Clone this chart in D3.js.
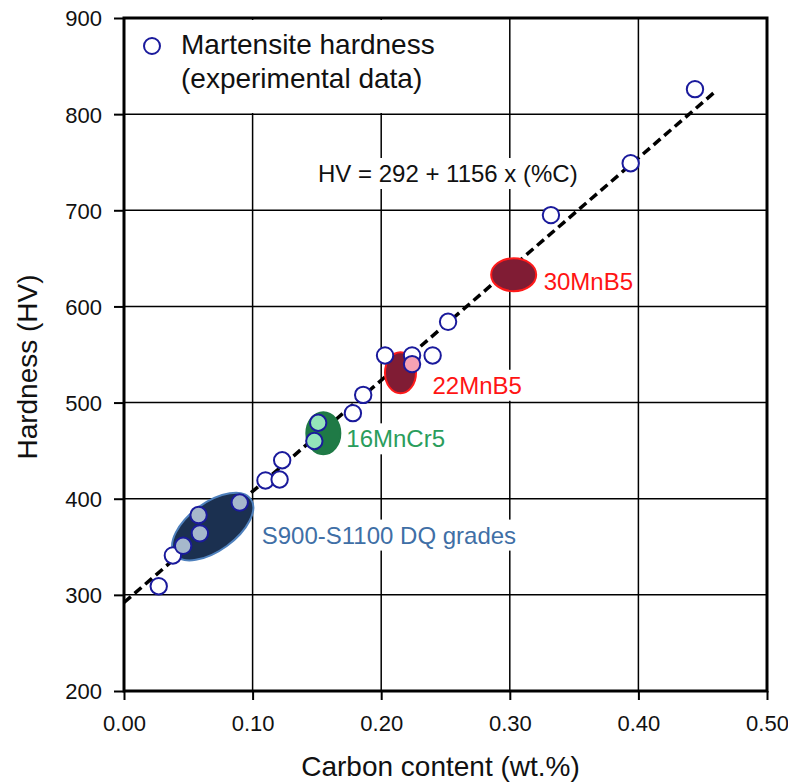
<!DOCTYPE html>
<html lang="en">
<head>
<meta charset="utf-8">
<title>Martensite hardness vs carbon content</title>
<script src="https://cdn.jsdelivr.net/npm/d3@7"></script>
<style>
  body { margin: 0; background: #fff; }
  text { font-family: "Liberation Sans", Arial, Helvetica, sans-serif; fill: #111; }
</style>
</head>
<body>
<script>

// experimental martensite hardness points
var carbon   = [0.027, 0.038, 0.046, 0.059, 0.058, 0.090, 0.110, 0.121, 0.123, 0.148, 0.151,
                0.178, 0.186, 0.203, 0.224, 0.224, 0.240, 0.252, 0.332, 0.394, 0.444];
var hardness = [309, 341, 351, 364, 383, 396, 419, 420, 440, 460, 479,
                489, 508, 549, 549, 540, 549, 584, 695, 749, 826];

// linear fit HV = a + b * C
var fitA = 292, fitB = 1156;
var fitRange = [0, 0.461];

// steel grades (centre of each marked region)
var gradeNames    = ["S900-S1100 DQ grades", "16MnCr5", "22MnB5", "30MnB5"];
var gradeCarbon   = [0.069, 0.155, 0.215, 0.303];
var gradeHardness = [371, 468, 531, 633];

// ticks
var xTicks = [0, 0.1, 0.2, 0.3, 0.4, 0.5];
var yTicks = [200, 300, 400, 500, 600, 700, 800, 900];

// look of each grade region
var gradeStyle = {
  "S900-S1100 DQ grades": { fill: "#1b3050", stroke: "#4f81bd", rx: 47, ry: 24, rot: -36, pt: "#a6b8cc", text: "#3f6fa6", dx: 49, dy: 17 },
  "16MnCr5":              { fill: "#1f7a46", stroke: "#1f7a46", rx: 17, ry: 21, rot: 0,   pt: "#94e4b9", text: "#2a9d5c", dx: 23, dy: 14 },
  "22MnB5":               { fill: "#801c34", stroke: "#ff1a1a", rx: 15.5, ry: 20.5, rot: 0, pt: "#f6a2b4", text: "#ff1414", dx: 32, dy: 21 },
  "30MnB5":               { fill: "#801c34", stroke: "#ff1a1a", rx: 22.5, ry: 16.5, rot: 0, pt: "#f6a2b4", text: "#ff1414", dx: 30, dy: 15 }
};

var w = 788, h = 783;

var x = d3.scaleLinear().domain([0, 0.5]).range([124, 767]);
var y = d3.scaleLinear().domain([200, 900]).range([691, 18]);

var svg = d3.select("body").append("svg")
  .attr("width", w)
  .attr("height", h);

// grid
svg.append("g").selectAll("line")
  .data(xTicks.slice(1, -1)).enter().append("line")
  .attr("x1", d => x(d)).attr("x2", d => x(d))
  .attr("y1", y(900)).attr("y2", y(200))
  .attr("stroke", "#000").attr("stroke-width", 1.5);
svg.append("g").selectAll("line")
  .data(yTicks.slice(1, -1)).enter().append("line")
  .attr("x1", x(0)).attr("x2", x(0.5))
  .attr("y1", d => y(d)).attr("y2", d => y(d))
  .attr("stroke", "#000").attr("stroke-width", 1.5);

// legend box hides the grid behind it
svg.append("rect")
  .attr("x", 126).attr("y", 20).attr("width", 330).attr("height", 93)
  .attr("fill", "#fff");

// axes
var xAxis = d3.axisBottom(x).tickValues(xTicks).tickFormat(d3.format(".2f")).tickSize(9).tickSizeOuter(0);
var yAxis = d3.axisLeft(y).tickValues(yTicks).tickSize(10).tickSizeOuter(0);

var gx = svg.append("g").attr("transform", "translate(0," + y(200) + ")").call(xAxis);
var gy = svg.append("g").attr("transform", "translate(" + x(0) + ",0)").call(yAxis);

[gx, gy].forEach(function(g) {
  g.select(".domain").remove();
  g.selectAll(".tick line").attr("stroke", "#000").attr("stroke-width", 2);
  g.selectAll(".tick text")
    .style("font-family", '"Liberation Sans", Arial, sans-serif')
    .style("font-size", "22px")
    .attr("fill", "#111");
});
gx.selectAll(".tick text").attr("dy", null).attr("y", 40);
gy.selectAll(".tick text").attr("x", -22).attr("dy", "0.36em");

// frame
svg.append("rect")
  .attr("x", x(0)).attr("y", y(900))
  .attr("width", x(0.5) - x(0)).attr("height", y(200) - y(900))
  .attr("fill", "none").attr("stroke", "#000").attr("stroke-width", 3);

// fit line
svg.append("line")
  .attr("x1", x(fitRange[0])).attr("y1", y(fitA + fitB * fitRange[0]))
  .attr("x2", x(fitRange[1])).attr("y2", y(fitA + fitB * fitRange[1]))
  .attr("stroke", "#000").attr("stroke-width", 3.5)
  .attr("stroke-dasharray", "9,5");

// grade regions
var grades = gradeNames.map(function(n, i) {
  return { name: n, c: gradeCarbon[i], hv: gradeHardness[i], s: gradeStyle[n] };
});

svg.append("g").selectAll("ellipse")
  .data(grades).enter().append("ellipse")
  .attr("transform", d => "translate(" + x(d.c) + "," + y(d.hv) + ") rotate(" + d.s.rot + ")")
  .attr("rx", d => d.s.rx).attr("ry", d => d.s.ry)
  .attr("fill", d => d.s.fill)
  .attr("stroke", d => d.s.stroke).attr("stroke-width", 2);

// point tint when it sits inside a region
function insideFill(px, py) {
  for (var i = 0; i < grades.length; i++) {
    var g = grades[i], a = -g.s.rot * Math.PI / 180;
    var dx = px - x(g.c), dy = py - y(g.hv);
    var u = dx * Math.cos(a) - dy * Math.sin(a);
    var v = dx * Math.sin(a) + dy * Math.cos(a);
    if ((u * u) / (g.s.rx * g.s.rx) + (v * v) / (g.s.ry * g.s.ry) < 0.85) return g.s.pt;
  }
  return "#fff";
}

var pts = carbon.map(function(c, i) { return { c: c, hv: hardness[i] }; });

svg.append("g").selectAll("circle")
  .data(pts).enter().append("circle")
  .attr("cx", d => x(d.c)).attr("cy", d => y(d.hv))
  .attr("r", 8.2)
  .attr("fill", d => insideFill(x(d.c), y(d.hv)))
  .attr("stroke", "#1a1a9c").attr("stroke-width", 2);

// labels with white backing
function label(tx, ty, str, size, color) {
  var g = svg.append("g");
  var t = g.append("text")
    .attr("x", tx).attr("y", ty)
    .style("font-size", size + "px")
    .style("fill", color)
    .text(str);
  var b = t.node().getBBox();
  g.insert("rect", "text")
    .attr("x", b.x - 4).attr("y", b.y - 2)
    .attr("width", b.width + 8).attr("height", b.height + 4)
    .attr("fill", "#fff");
}

grades.forEach(function(d) {
  label(x(d.c) + d.s.dx, y(d.hv) + d.s.dy, d.name, 24, d.s.text);
});

label(318, 182, "HV = " + fitA + " + " + fitB + " x (%C)", 24, "#111");

// legend
svg.append("circle")
  .attr("cx", 152).attr("cy", 46).attr("r", 8)
  .attr("fill", "#fff").attr("stroke", "#1a1a9c").attr("stroke-width", 2);
svg.append("text").attr("x", 181).attr("y", 54)
  .style("font-size", "28px").text("Martensite hardness");
svg.append("text").attr("x", 181).attr("y", 88)
  .style("font-size", "28px").text("(experimental data)");

// axis titles
svg.append("text")
  .attr("x", (x(0) + x(0.5)) / 2 - 5).attr("y", 776)
  .attr("text-anchor", "middle")
  .style("font-size", "28px")
  .text("Carbon content (wt.%)");

svg.append("text")
  .attr("transform", "translate(37," + 367 + ") rotate(-90)")
  .attr("text-anchor", "middle")
  .style("font-size", "28px")
  .text("Hardness (HV)");

</script>
</body>
</html>
